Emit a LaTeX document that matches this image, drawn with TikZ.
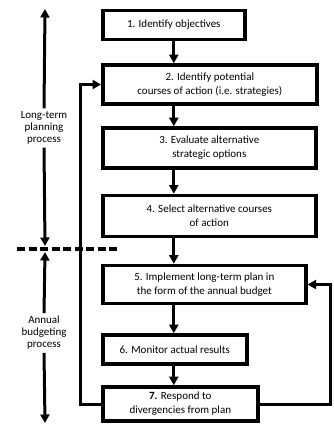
\documentclass[tikz,border=0pt]{standalone}
\usepackage{fontspec}
\setmainfont{Carlito}
\usetikzlibrary{arrows.meta}
\begin{document}
\begin{tikzpicture}[x=1pt,y=-1pt,
  stepbox/.style={draw=black, line width=3.6pt, fill=white, anchor=west,
    align=center, inner sep=2pt, font=\fontsize{11}{14}\selectfont},
  side/.style={align=center, inner sep=3pt, font=\fontsize{11}{12}\selectfont},
  arr/.style={line width=3pt, -{Triangle[length=8.5pt,width=9pt]}},
  link/.style={line width=3pt}]
\useasboundingbox (0,0) rectangle (334,424);

% process steps
\node[stepbox, minimum width=142pt, minimum height=29pt] (b1) at (101,25) {1. Identify objectives};
\node[stepbox, minimum width=214pt, minimum height=39pt] (b2) at (101,84.5) {2. Identify potential\\courses of action (i.e. strategies)};
\node[stepbox, minimum width=213pt, minimum height=40pt] (b3) at (101,148) {3. Evaluate alternative\\strategic options};
\node[stepbox, minimum width=213pt, minimum height=41pt] (b4) at (101,216) {4. Select alternative courses\\of action};
\node[stepbox, minimum width=203pt, minimum height=38pt] (b5) at (101,284.5) {5. Implement long-term plan in\\the form of the annual budget};
\node[stepbox, minimum width=144pt, minimum height=29pt] (b6) at (101,349.5) {6. Monitor actual results};
\node[stepbox, minimum width=155pt, minimum height=34pt] (b7) at (101,404) {\textbf{7.} Respond to\\divergencies from plan};

% main flow
\draw[arr] (b1.south) -- (b1.south |- b2.north);
\draw[arr] (b1.south |- b2.south) -- (b1.south |- b3.north);
\draw[arr] (b1.south |- b3.south) -- (b1.south |- b4.north);
\draw[arr] (b1.south |- b4.south) -- (b1.south |- b5.north);
\draw[arr] (b1.south |- b5.south) -- (b1.south |- b6.north);
\draw[arr] (b1.south |- b6.south) -- (b1.south |- b7.north);

% feedback loops
\coordinate (rl) at (330,0);
\coordinate (ll) at (80,0);
\draw[arr] (b7.east) -- (b7.east -| rl) |- (b5.east);
\draw[arr] (b7.west) -- (b7.west -| ll) |- (b2.west);

% time scale on the left
\node[side] (lt) at (44,128) {Long-term\\planning\\process};
\node[side] (at) at (44,333) {Annual\\budgeting\\process};
\coordinate (ttop) at (45,9);
\coordinate (tmidA) at (45,246);
\coordinate (tmidB) at (45,252);
\coordinate (tbot) at (45,423);
\draw[arr] (lt.north) -- (ttop);
\draw[arr] (lt.south) -- (tmidA);
\draw[arr] (at.north) -- (tmidB);
\draw[arr] (at.south) -- (tbot);

% boundary between the two processes
\coordinate (d1) at (17,249);
\coordinate (d2) at (117,249);
\draw[line width=3.2pt, dash pattern=on 8pt off 3.5pt] (d1) -- (d2);
\end{tikzpicture}
\end{document}
